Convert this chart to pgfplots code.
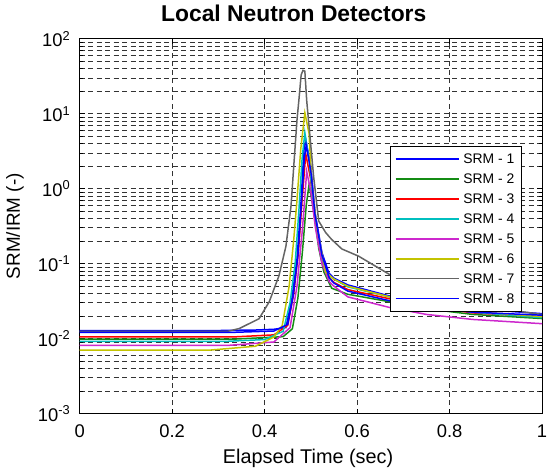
\documentclass[border=0pt]{standalone}
\usepackage{fontspec}
\setmainfont{Liberation Sans}
\usepackage{pgfplots}
\usepackage{pgfplotstable}
\pgfplotsset{compat=1.18}

\definecolor{srmblue}{RGB}{0,0,255}
\definecolor{srmgreen}{RGB}{20,140,20}
\definecolor{srmred}{RGB}{255,0,0}
\definecolor{srmcyan}{RGB}{0,191,191}
\definecolor{srmmagenta}{RGB}{205,40,205}
\definecolor{srmyellow}{RGB}{195,195,0}
\definecolor{srmgray}{RGB}{100,100,100}

% long legend samples
\pgfplotsset{
  legend image code/.code={\draw[#1] (0bp,0bp) -- (64bp,0bp);},
  legend image post style={line width=1.8bp},
}

% SRM/IRM response of each detector (time in s)
\pgfplotstableread{
t y
0 0.0128
0.30 0.0128
0.38 0.0130
0.42 0.0133
0.446 0.0140
0.459 0.034
0.47 0.115
0.478 0.56
0.485 3.3
0.489 4.5
0.50 1.96
0.509 0.48
0.524 0.14
0.539 0.075
0.55 0.064
0.58 0.052
0.67 0.037
0.75 0.030
0.85 0.025
1.0 0.0215
}\srmA
\pgfplotstableread{
t y
0 0.0098
0.33 0.0098
0.44 0.0106
0.46 0.0135
0.472 0.035
0.482 0.15
0.49 0.60
0.496 1.13
0.506 0.52
0.517 0.16
0.528 0.078
0.545 0.047
0.58 0.039
0.67 0.031
0.75 0.025
0.85 0.021
1.0 0.0185
}\srmB
\pgfplotstableread{
t y
0 0.0105
0.33 0.0105
0.42 0.0112
0.45 0.015
0.463 0.04
0.473 0.14
0.481 0.7
0.489 2.9
0.499 1.4
0.508 0.42
0.522 0.13
0.537 0.068
0.55 0.056
0.58 0.045
0.67 0.034
0.75 0.027
0.85 0.022
1.0 0.0195
}\srmC
\pgfplotstableread{
t y
0 0.0092
0.32 0.0092
0.40 0.0097
0.44 0.0125
0.455 0.030
0.466 0.10
0.474 0.50
0.481 2.5
0.487 5.6
0.497 2.2
0.506 0.55
0.52 0.15
0.535 0.072
0.55 0.062
0.58 0.049
0.67 0.036
0.75 0.028
0.85 0.0225
1.0 0.019
}\srmD
\pgfplotstableread{
t y
0 0.0081
0.32 0.0081
0.42 0.0090
0.455 0.0140
0.47 0.05
0.482 0.30
0.491 1.7
0.50 0.9
0.51 0.30
0.524 0.10
0.54 0.057
0.55 0.050
0.58 0.036
0.67 0.026
0.75 0.021
0.85 0.018
1.0 0.0158
}\srmE
\pgfplotstableread{
t y
0 0.0070
0.28 0.0070
0.38 0.0079
0.42 0.0105
0.438 0.0149
0.453 0.05
0.463 0.21
0.47 0.71
0.478 3.3
0.487 10.3
0.496 5.5
0.502 1.2
0.513 0.30
0.532 0.077
0.55 0.062
0.58 0.050
0.67 0.036
0.75 0.028
0.85 0.023
1.0 0.0196
}\srmF
\pgfplotstableread{
t y
0 0.0125
0.32 0.0125
0.345 0.0136
0.388 0.0184
0.41 0.031
0.431 0.069
0.446 0.17
0.457 0.58
0.463 2.0
0.47 8.3
0.474 15
0.479 33
0.483 38
0.487 37
0.491 15
0.506 1.45
0.517 0.37
0.532 0.26
0.545 0.21
0.567 0.157
0.603 0.126
0.668 0.073
0.75 0.042
0.85 0.028
1.0 0.021
}\srmG
\pgfplotstableread{
t y
0 0.0121
0.33 0.0121
0.42 0.0126
0.45 0.0155
0.462 0.038
0.472 0.13
0.48 0.7
0.486 2.6
0.49 3.8
0.50 1.7
0.509 0.45
0.524 0.13
0.54 0.064
0.55 0.055
0.58 0.043
0.67 0.032
0.75 0.026
0.85 0.0225
1.0 0.0205
}\srmH

\begin{document}
\begin{tikzpicture}
\begin{axis}[
  scale only axis,
  width=464bp, height=376bp,
  ymode=log,
  xmin=0, xmax=1, ymin=1e-3, ymax=1e2,
  xtick={0,0.2,0.4,0.6,0.8,1},
  xticklabels={0,0.2,0.4,0.6,0.8,1},
  ytick={1e-3,1e-2,1e-1,1,1e1,1e2},
  yticklabels={10\textsuperscript{-3},10\textsuperscript{-2},10\textsuperscript{-1},10\textsuperscript{0},10\textsuperscript{1},10\textsuperscript{2}},
  minor ytick={2e-3,3e-3,4e-3,5e-3,6e-3,7e-3,8e-3,9e-3,
               2e-2,3e-2,4e-2,5e-2,6e-2,7e-2,8e-2,9e-2,
               0.2,0.3,0.4,0.5,0.6,0.7,0.8,0.9,
               2,3,4,5,6,7,8,9,
               20,30,40,50,60,70,80,90},
  tick align=inside,
  major tick length=5bp, minor tick length=3bp,
  every tick/.style={black, line width=0.8bp},
  xmajorgrids, ymajorgrids, yminorgrids,
  major grid style={black!80, line width=0.8bp, dash pattern=on 5bp off 3.5bp},
  minor grid style={black!80, line width=0.8bp, dash pattern=on 5bp off 3.5bp},
  axis line style={black, line width=1bp},
  tick label style={font=\fontsize{18.5}{20}\selectfont},
  xticklabel style={anchor=base, yshift=-24bp},
  yticklabel style={anchor=east, xshift=-6bp},
  title={Local Neutron Detectors},
  title style={font=\fontsize{23}{26}\selectfont\bfseries, at={(0.463,1)}, anchor=base, yshift=11bp},
  xlabel={Elapsed Time (sec)},
  xlabel style={font=\fontsize{20}{23}\selectfont, at={(0.494,0)}, anchor=base, yshift=-50bp},
  ylabel={SRM/IRM (-)},
  ylabel style={font=\fontsize{19}{22}\selectfont, at={(-0.1293,0.5)}, anchor=base},
  legend cell align=left,
  legend style={at={(0.672,0.715)}, anchor=north west, draw=black, line width=0.8bp,
    fill=white, inner xsep=4bp, inner ysep=3bp, row sep=0bp,
    font=\fontsize{14}{16}\selectfont,
    nodes={text height=10bp, text depth=0bp, inner ysep=5bp, inner xsep=3bp}},
  every axis plot/.append style={line width=1.5bp},
]
\addplot[srmblue] table {\srmA};
\addplot[srmgreen] table {\srmB};
\addplot[srmred] table {\srmC};
\addplot[srmcyan] table {\srmD};
\addplot[srmmagenta] table {\srmE};
\addplot[srmyellow] table {\srmF};
\addplot[srmgray] table {\srmG};
\addplot[srmblue] table {\srmH};
\legend{SRM - 1, SRM - 2, SRM - 3, SRM - 4, SRM - 5, SRM - 6, SRM - 7, SRM - 8}
\coordinate (bl) at (rel axis cs:0,0);
\coordinate (tr) at (rel axis cs:1,1);
\end{axis}
\pgfresetboundingbox
\path[use as bounding box] ([xshift=-80bp,yshift=-58bp]bl) rectangle ([xshift=5bp,yshift=39bp]tr);
\end{tikzpicture}
\end{document}
